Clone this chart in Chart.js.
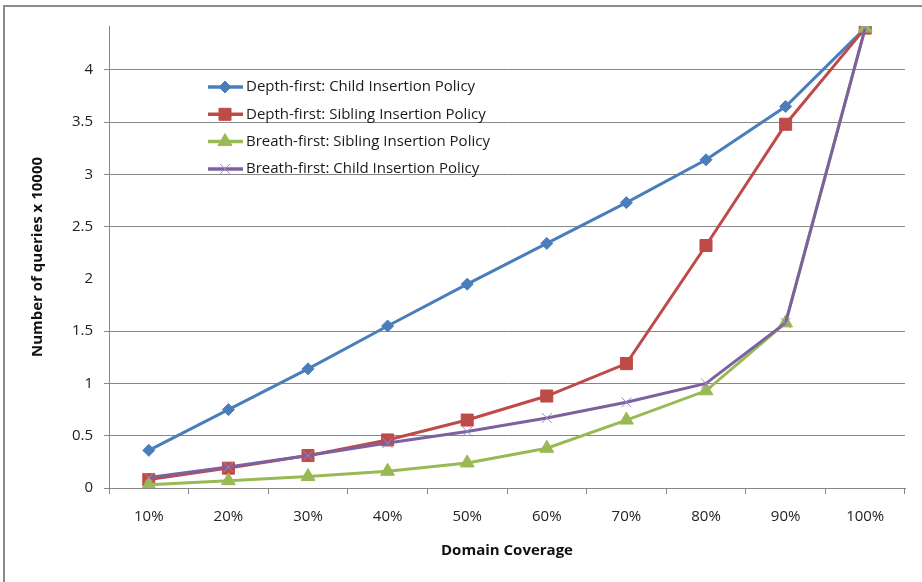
<!DOCTYPE html>
<html lang="en">
<head>
<meta charset="UTF-8">
<title>Number of queries vs Domain Coverage</title>
<style>
body { margin:0; padding:0; background:#fff; }
#wrap { position:relative; width:922px; height:582px; }
#frame { position:absolute; left:3px; top:5px; right:0; bottom:0; border-top:2px solid #8c8c8c; border-left:2px solid #8c8c8c; pointer-events:none; }
</style>
</head>
<body>
<div id="wrap">
<canvas id="chart" width="922" height="582"></canvas>
<div id="frame"></div>
</div>

<script src="https://cdn.jsdelivr.net/npm/chart.js"></script>
<script>
// data (number of queries x 10000)
const coverage = ['10%', '20%', '30%', '40%', '50%', '60%', '70%', '80%', '90%', '100%'];
const depthChild    = [0.36, 0.75, 1.14, 1.55, 1.95, 2.34, 2.73, 3.14, 3.65, 4.40];
const depthSibling  = [0.08, 0.19, 0.31, 0.46, 0.65, 0.88, 1.19, 2.32, 3.48, 4.40];
const breathSibling = [0.03, 0.07, 0.11, 0.16, 0.24, 0.38, 0.65, 0.93, 1.58, 4.40];
const breathChild   = [0.10, 0.20, 0.31, 0.43, 0.54, 0.67, 0.82, 1.00, 1.58, 4.40];
const seriesNames = [
  'Depth-first: Child Insertion Policy',
  'Depth-first: Sibling Insertion Policy',
  'Breath-first: Sibling Insertion Policy',
  'Breath-first: Child Insertion Policy'
];
const yMax = 4.42;
const yStep = 0.5;

const FONT = "'Open Sans', 'Liberation Sans', sans-serif";
const GRID = '#878787';

function series(i, data, color, style, radius, extra) {
  return Object.assign({
    label: seriesNames[i],
    data: data,
    borderColor: color,
    backgroundColor: color,
    borderWidth: 3,
    tension: 0,
    pointStyle: style,
    pointRadius: radius,
    pointBackgroundColor: color,
    pointBorderColor: color,
    pointBorderWidth: 1,
    order: 3 - i   // later series on top, like the original
  }, extra || {});
}

// the 2.0 gridline is missing in the original
function hiddenTick(c) {
  return c && c.tick && Math.abs(c.tick.value - 2) < 1e-6;
}

// legend drawn inside the plot area
const insideLegend = {
  id: 'insideLegend',
  afterDraw(chart) {
    const ctx = chart.ctx;
    const x0 = chart.chartArea.left + 99;
    const y0 = chart.chartArea.top + 61;
    chart.data.datasets.forEach((ds, i) => {
      const y = y0 + i * 27.3;
      ctx.save();
      ctx.strokeStyle = ds.borderColor;
      ctx.lineWidth = 3.5;
      ctx.beginPath();
      ctx.moveTo(x0, y);
      ctx.lineTo(x0 + 35, y);
      ctx.stroke();
      ctx.fillStyle = ds.pointBackgroundColor;
      ctx.strokeStyle = ds.pointBorderColor;
      ctx.lineWidth = ds.pointBorderWidth;
      Chart.helpers.drawPoint(ctx, {
        pointStyle: ds.pointStyle,
        radius: ds.pointRadius,
        borderWidth: ds.pointBorderWidth,
        rotation: 0
      }, x0 + 17, y);
      ctx.fillStyle = '#1a1a1a';
      ctx.font = '15px ' + FONT;
      ctx.textBaseline = 'middle';
      ctx.fillText(ds.label, x0 + 38, y);
      ctx.restore();
    });
  }
};

new Chart(document.getElementById('chart'), {
  type: 'line',
  data: {
    labels: coverage,
    datasets: [
      series(0, depthChild, '#4A7EBB', 'rectRot', 6),
      series(1, depthSibling, '#BE4B48', 'rect', 8.5),
      series(2, breathSibling, '#98B954', 'triangle', 8),
      series(3, breathChild, '#7D60A0', 'crossRot', 7, { pointBorderColor: '#9a86c0' })
    ]
  },
  options: {
    responsive: false,
    animation: false,
    layout: { padding: { top: 26, right: 17, bottom: 18, left: 20 } },
    plugins: {
      legend: { display: false },
      tooltip: { enabled: false }
    },
    scales: {
      x: {
        offset: true,
        grid: { drawOnChartArea: false, offset: true, tickLength: 6, color: GRID },
        border: { color: GRID, width: 1 },
        ticks: { color: '#222', padding: 14, font: { family: FONT, size: 15 } },
        title: {
          display: true,
          text: 'Domain Coverage',
          color: '#111',
          padding: { top: 4, bottom: 4 },
          font: { family: FONT, size: 15, weight: 'bold' }
        },
        afterFit: s => { s.height = 76; }
      },
      y: {
        min: 0,
        max: yMax,
        grid: {
          tickLength: 5,
          color: c => hiddenTick(c) ? 'rgba(0,0,0,0)' : GRID,
          lineWidth: c => hiddenTick(c) ? 0 : 1
        },
        border: { color: GRID, width: 1 },
        ticks: {
          stepSize: yStep,
          includeBounds: false,
          color: '#222',
          padding: 11,
          font: { family: FONT, size: 15 },
          callback: v => String(Math.round(v * 10) / 10)
        },
        title: {
          display: true,
          text: 'Number of queries x 10000',
          color: '#111',
          padding: { top: 9, bottom: 0 },
          font: { family: FONT, size: 15, weight: 'bold' }
        },
        afterFit: s => { s.width = 89; }
      }
    }
  },
  plugins: [insideLegend]
});
</script>
</body>
</html>
